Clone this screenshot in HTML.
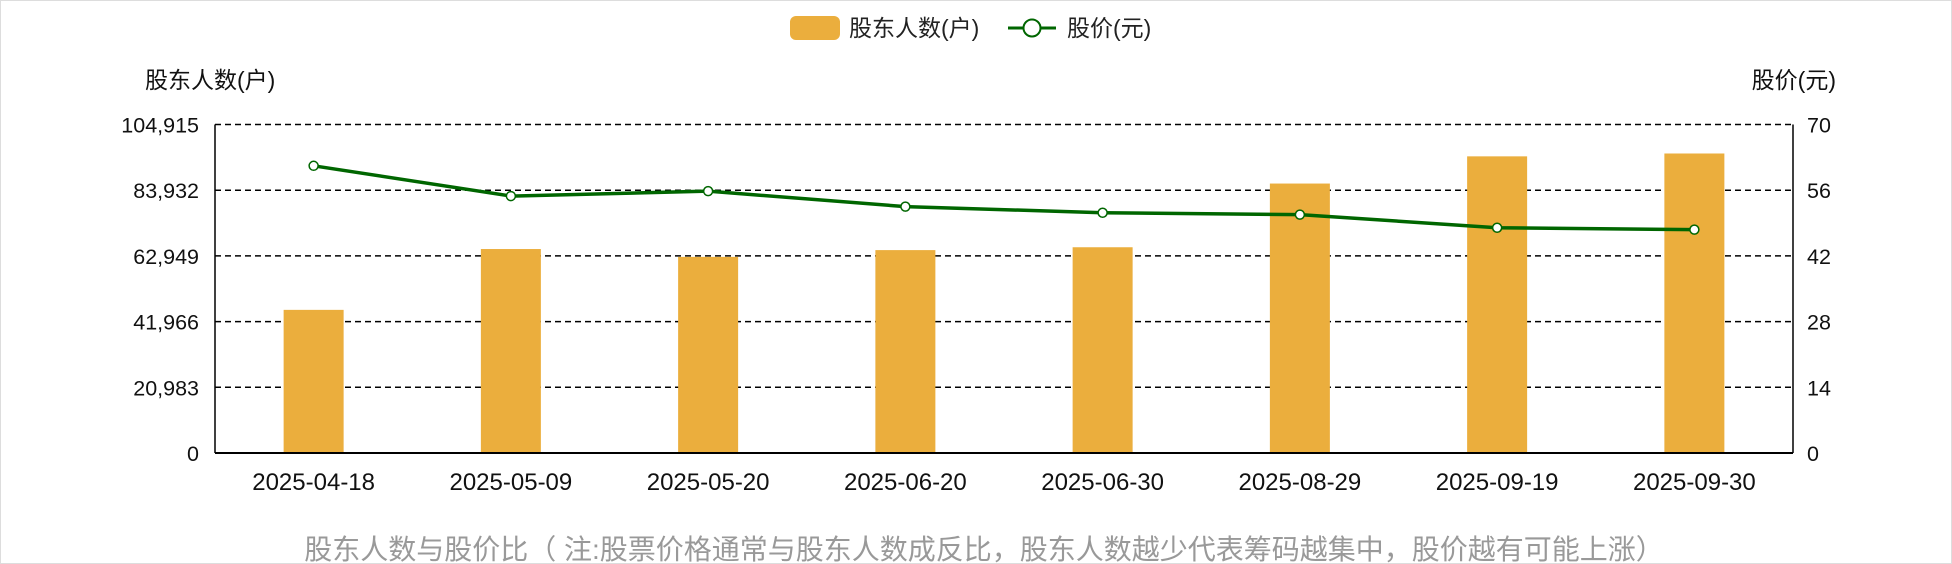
<!DOCTYPE html>
<html><head><meta charset="utf-8"><style>
html,body{margin:0;padding:0;background:#fff;overflow:hidden;}
svg{display:block;font-family:"Liberation Sans","Noto Sans CJK SC",sans-serif;}
</style></head><body>
<svg id="chart" width="1952" height="564" viewBox="0 0 1952 564">
<rect x="0.5" y="0.5" width="1951" height="563" fill="none" stroke="#ddd"/>
<g>
<rect x="790" y="16" width="50" height="24" rx="6" fill="#ebae3d"/>
<text x="849" y="36" font-size="23" fill="#222">股东人数(户)</text>
<line x1="1008" y1="28" x2="1056" y2="28" stroke="#006600" stroke-width="3"/>
<circle cx="1032" cy="28" r="8.5" fill="#fff" stroke="#006600" stroke-width="2"/>
<text x="1067" y="36" font-size="23" fill="#222">股价(元)</text>
</g>
<text x="145" y="88" font-size="23" fill="#111">股东人数(户)</text>
<text x="1836" y="88" font-size="23" fill="#111" text-anchor="end">股价(元)</text>
<g id="grid"></g><g id="bars"></g><g id="line"></g><g id="axes"></g>
<text x="984" y="559" font-size="28" fill="#999" text-anchor="middle">股东人数与股价比（ 注:股票价格通常与股东人数成反比，股东人数越少代表筹码越集中，股价越有可能上涨）</text>
</svg>
<script>
const categories=["2025-04-18","2025-05-09","2025-05-20","2025-06-20","2025-06-30","2025-08-29","2025-09-19","2025-09-30"];
const holders=[45714,65143,62629,64800,65714,86057,94743,95657];
const prices=[61.2,54.75,55.8,52.5,51.2,50.8,48.0,47.6];
const leftTicks=[0,20983,41966,62949,83932,104915];
const rightTicks=[0,14,28,42,56,70];
const NS="http://www.w3.org/2000/svg";
const L=215,R=1793,T=124.5,B=453;
const yL=v=>B-v/104915*(B-T);
const yR=v=>B-v/70*(B-T);
const band=(R-L)/categories.length;
const xC=i=>L+band*(i+0.5);
function mk(tag,attrs,parent){const e=document.createElementNS(NS,tag);for(const k in attrs)e.setAttribute(k,attrs[k]);document.getElementById(parent).appendChild(e);return e;}
leftTicks.forEach((v,i)=>{
  const y=yL(v);
  if(i>0){const g=mk("line",{x1:L,x2:R,y1:y,y2:y,stroke:"#000","stroke-dasharray":"6,4","stroke-width":1.5},"grid");
  
  }
  const t=mk("text",{x:L-16,y:y+8,"font-size":21.5,"text-anchor":"end",fill:"#111"},"axes");t.textContent=v.toLocaleString("en-US");
  
  
});
rightTicks.forEach(v=>{
  const t=mk("text",{x:R+14,y:yR(v)+8,"font-size":21.5,fill:"#111"},"axes");t.textContent=v;
  
  
});
holders.forEach((v,i)=>{
  const b=mk("rect",{x:xC(i)-30,y:yL(v),width:60,height:B-yL(v),fill:"#ebae3d"},"bars");
  
  
  const t=mk("text",{x:xC(i),y:B+37,"font-size":24,"text-anchor":"middle",fill:"#111"},"axes");t.textContent=categories[i];
  
  
});
const p=mk("polyline",{points:prices.map((v,i)=>xC(i)+","+yR(v)).join(" "),fill:"none",stroke:"#006600","stroke-width":3.5},"line");


prices.forEach((v,i)=>{
  const c=mk("circle",{cx:xC(i),cy:yR(v),r:4.5,fill:"#fff",stroke:"#006600","stroke-width":1.5},"line");
  
  
});
const a1=mk("line",{x1:L,x2:L,y1:T,y2:B,stroke:"#000","stroke-width":1.5},"axes");


const a2=mk("line",{x1:R,x2:R,y1:T,y2:B,stroke:"#000","stroke-width":1.5},"axes");


const a3=mk("line",{x1:L,x2:R,y1:B,y2:B,stroke:"#000","stroke-width":2},"axes");


</script>
</body></html>
